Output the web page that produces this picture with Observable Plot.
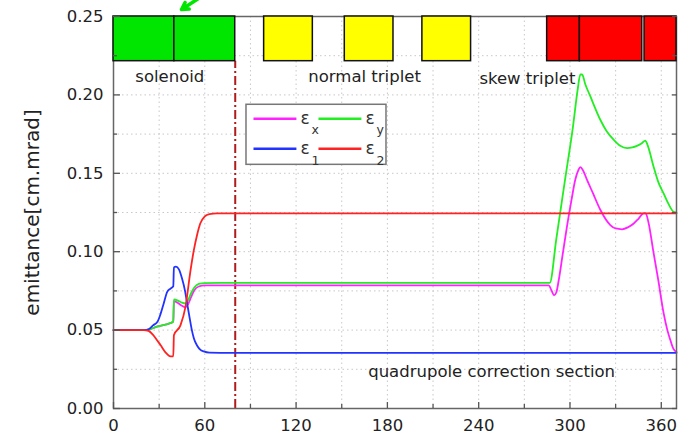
<!DOCTYPE html>
<html><head><meta charset="utf-8">
<script src="https://cdn.jsdelivr.net/npm/d3@7"></script>
<script src="https://cdn.jsdelivr.net/npm/@observablehq/plot@0.6"></script>
<style>body{margin:0;background:#fff}</style>
</head><body><div id="chart"></div>
<script>
// ---- data ----
const epsX = [[0,0.050],[20,0.050],[24,0.0505],[28,0.052],[32,0.053],[36,0.054],[39.3,0.0555],[39.7,0.0685],[42,0.0675],[45,0.0655],[47.3,0.0645],[49,0.0665],[51,0.071],[53,0.0752],[56,0.0778],[60,0.0785],[70,0.0785],[286,0.0785],[288,0.075],[289.5,0.0722],[291,0.074],[292.6,0.0818],[295,0.097],[298,0.116],[301,0.133],[303.5,0.146],[305.5,0.152],[306.8,0.1539],[308.5,0.152],[311.2,0.1458],[315,0.1375],[320,0.1266],[326.5,0.117],[330,0.1148],[334.2,0.1143],[338,0.1155],[341.9,0.118],[345,0.121],[348.4,0.1245],[349.8,0.1245],[351.5,0.119],[355,0.0989],[358,0.082],[361.6,0.0605],[364,0.05],[366,0.0435],[368,0.038],[370,0.036]];
const epsY = [[0,0.050],[20,0.050],[24,0.0505],[28,0.052],[32,0.053],[36,0.054],[39.3,0.0555],[39.7,0.0695],[42,0.069],[45,0.0675],[47.3,0.067],[49,0.069],[51,0.0735],[53,0.077],[56,0.0795],[60,0.080],[70,0.0801],[286.7,0.0801],[291,0.108],[297,0.1475],[302,0.18],[305,0.203],[306.8,0.213],[308,0.213],[310,0.207],[313.4,0.199],[320,0.184],[324,0.177],[328.7,0.1714],[333,0.1675],[337.5,0.166],[341,0.1665],[344,0.1675],[347,0.169],[349.5,0.1709],[351,0.168],[355,0.154],[358,0.1445],[361.6,0.137],[365,0.130],[368,0.1255],[370,0.1249]];
const eps1 = [[0,0.050],[20,0.050],[23,0.0505],[26,0.053],[29,0.0555],[31,0.0605],[33,0.067],[35.3,0.0744],[37.5,0.0765],[39.3,0.078],[39.7,0.090],[41,0.0905],[43,0.0887],[45,0.083],[47,0.075],[48.4,0.067],[50,0.058],[51.5,0.050],[52.8,0.0448],[55,0.040],[57,0.0375],[59.3,0.0364],[63,0.0356],[70,0.0355],[370,0.0355]];
const eps2 = [[0,0.050],[20,0.050],[23,0.0495],[26,0.047],[29,0.043],[31,0.0403],[34,0.036],[37.5,0.0333],[39.3,0.0333],[39.7,0.0467],[44,0.053],[47.3,0.0648],[50.6,0.088],[52.8,0.101],[55,0.111],[57,0.118],[60,0.1225],[63,0.124],[68,0.1245],[370,0.1245]];

const seriesNames = ["x", "y", "1", "2"];
const seriesColors = ["#ff22ff", "#22ee22", "#2233ff", "#ff2222"];
const seriesData = [epsX, epsY, eps1, eps2];

// beamline elements (s position, start / end)
const elemStart = [0, 40, 99, 152, 203, 285, 306.5, 349];
const elemEnd   = [40, 80, 131, 184, 235, 306.5, 347.5, 370];
const elemKind  = ["solenoid","solenoid","normal","normal","normal","skew","skew","skew"];
const kindFill  = {solenoid: "#00e600", normal: "#ffff00", skew: "#ff0000"};

const sectionLabels = ["solenoid", "normal triplet", "skew triplet", "quadrupole correction section"];
const sectionX = [37, 165, 272, 248.5];
const sectionY = [0.2115, 0.2115, 0.2105, 0.0232];

const boundaryX = [80];
const xMajor = [0, 60, 120, 180, 240, 300, 360];
const xMinor = [30, 90, 150, 210, 270, 330];
const yMajor = [0, 0.05, 0.10, 0.15, 0.20, 0.25];
const yMinor = [0.025, 0.075, 0.125, 0.175, 0.225];
const yLabel = "emittance[cm.mrad]";

// ---- build ----
const elems = elemStart.map((s, i) => ({x1: s, x2: elemEnd[i], fill: kindFill[elemKind[i]]}));
const labels = sectionLabels.map((t, i) => ({text: t, x: sectionX[i], y: sectionY[i]}));
const boxBottom = 0.2215;

// legend layout (in data units of the chart)
const leg = {x1: 87.4, x2: 179.4, y1: 0.1554, y2: 0.1937};
const legItems = seriesNames.map((n, i) => {
  const col = i % 2, row = Math.floor(i / 2);
  const lx = leg.x1 + 4.6 + col * 42.7;
  const ly = 0.1848 - row * 0.0192;
  return {name: n, color: seriesColors[i], lx1: lx, lx2: lx + 28.2, tx: lx + 30.9, ty: ly, sx: lx + 38.2, sy: ly - 0.0075};
});

const lineMarks = seriesData.map((pts, i) =>
  Plot.line(pts, {x: d => d[0], y: d => d[1], stroke: seriesColors[i], strokeWidth: 1.8, curve: "monotone-x"}));

const gridStyle = {stroke: "#c8c8c8", strokeOpacity: 1, strokeWidth: 1, strokeDasharray: "1.5,3"};
const axisColor = "#555";

const chart = Plot.plot({
  width: 685, height: 435,
  marginLeft: 113, marginRight: 9, marginTop: 16, marginBottom: 27,
  x: {domain: [0, 370]},
  y: {domain: [0, 0.25]},
  style: {fontFamily: "'DejaVu Sans', sans-serif", fontSize: "16.5px", background: "#fff", color: "#222", overflow: "visible"},
  marks: [
    Plot.gridX([...xMinor, ...xMajor.slice(1)], gridStyle),
    Plot.gridY([...yMinor, ...yMajor.slice(1, -1)], gridStyle),
    Plot.ruleX(boundaryX, {y1: 0, y2: boxBottom, stroke: "#b01c1c", strokeWidth: 2, strokeDasharray: "9,3,2,3"}),
    ...lineMarks,
    // legend
    Plot.rect([leg], {x1: "x1", x2: "x2", y1: "y1", y2: "y2", fill: "#fff", stroke: "#777", strokeWidth: 1.5}),
    Plot.link(legItems, {x1: "lx1", x2: "lx2", y1: "ty", y2: "ty", stroke: "color", strokeWidth: 2.5}),
    Plot.text(legItems, {x: "tx", y: "ty", text: () => "ε", textAnchor: "start", fontSize: 17, fill: "#333"}),
    Plot.text(legItems, {x: "sx", y: "sy", text: "name", textAnchor: "start", fontSize: 12.5, fill: "#333"}),
    // frame
    Plot.frame({stroke: "#666", strokeWidth: 1.5}),
    // beamline elements
    Plot.rect(elems, {x1: "x1", x2: "x2", y1: boxBottom, y2: 0.25, fill: "fill", stroke: "#111", strokeWidth: 1.5}),
    Plot.arrow([0], {x1: 57.5, y1: 0.2625, x2: 44.7, y2: 0.2545, stroke: "#00e600", strokeWidth: 3.5, headLength: 10}),
    // annotations
    Plot.text(labels, {x: "x", y: "y", text: "text", fontSize: 16.5, fill: "#222"}),
    // axes
    Plot.axisY(yMajor, {tickSize: 0, tickPadding: 10, tickFormat: d3.format(".2f"), label: null, fontSize: 16.5, fill: "#222"}),
    Plot.axisY(yMajor, {tickSize: -7, tickFormat: () => "", label: null, stroke: axisColor, strokeWidth: 1.3}),
    Plot.axisY(yMinor, {tickSize: -4, tickFormat: () => "", label: null, stroke: axisColor, strokeWidth: 1.3}),
    Plot.axisY([...yMajor, ...yMinor], {anchor: "right", tickSize: -5, tickFormat: () => "", label: null, stroke: axisColor, strokeWidth: 1.3}),
    Plot.axisX(xMajor, {tickSize: 0, tickPadding: 11, label: null, fontSize: 16.5, fill: "#222"}),
    Plot.axisX(xMajor, {tickSize: -6, tickFormat: () => "", label: null, stroke: axisColor, strokeWidth: 1.3}),
    Plot.axisX(xMinor, {tickSize: -4, tickFormat: () => "", label: null, stroke: axisColor, strokeWidth: 1.3}),
    Plot.text([yLabel], {text: d => d, frameAnchor: "left", textAnchor: "middle", lineAnchor: "middle", rotate: -90, dx: -81, fontSize: 20, fill: "#222"})
  ]
});
document.getElementById("chart").appendChild(chart);
</script>
</body></html>
